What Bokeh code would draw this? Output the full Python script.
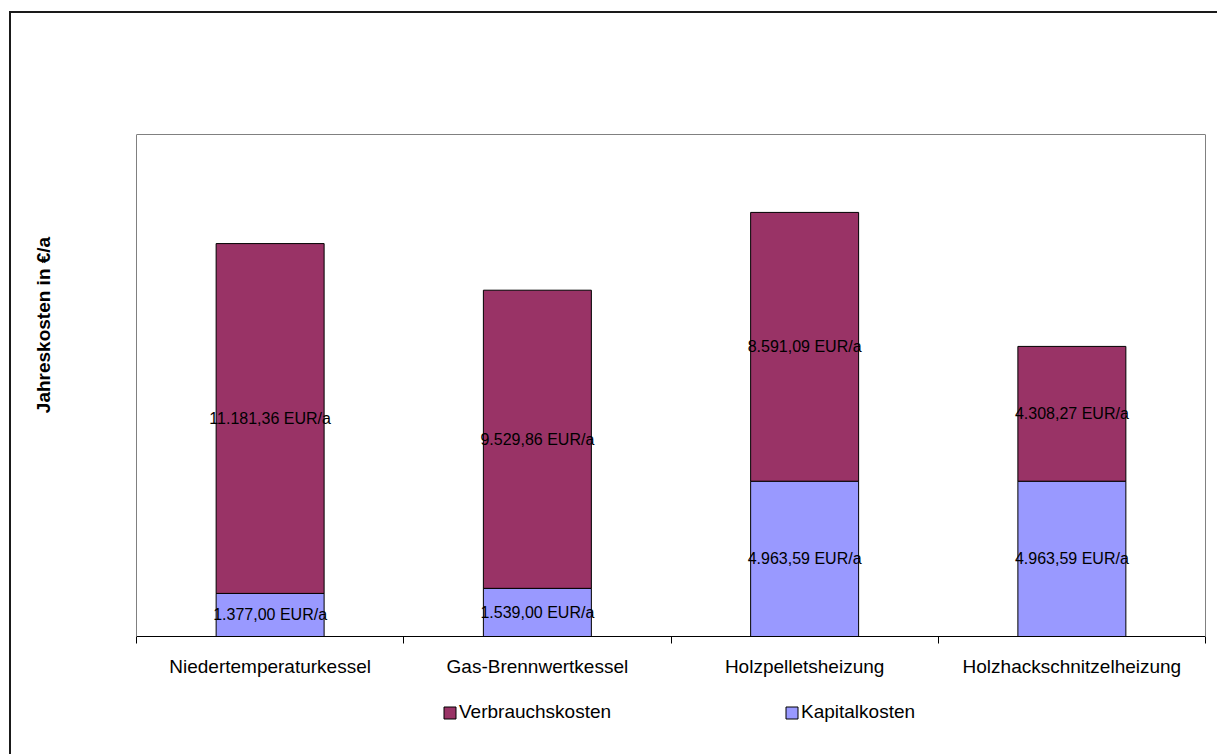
from bokeh.plotting import figure
from bokeh.layouts import column
from bokeh.models import (Range1d, FixedTicker, LinearAxis, LabelSet,
                          ColumnDataSource, Legend, LegendItem)
from bokeh.core.properties import value
from bokeh.embed import file_html
from bokeh.resources import INLINE

# Annual heating costs per system (EUR/a)
categories = ["Niedertemperaturkessel", "Gas-Brennwertkessel",
              "Holzpelletsheizung", "Holzhackschnitzelheizung"]
kapitalkosten = [1377.00, 1539.00, 4963.59, 4963.59]
verbrauchskosten = [11181.36, 9529.86, 8591.09, 4308.27]
series_names = ["Verbrauchskosten", "Kapitalkosten"]
y_title = "Jahreskosten in €/a"

COLOR_VERBRAUCH = "#993366"
COLOR_KAPITAL = "#9999FF"
FONT = "Liberation Sans"

Y_MAX = 16045                 # top of the plot area
PLOT_H, FRAME_H = 502, 623    # plot area height inside the taller frame
Y_END = Y_MAX * FRAME_H / PLOT_H
CHART_W = 1208
MAIN_H, LEGEND_H = 673, 70


def eur(v):
    s = f"{v:,.2f}".replace(",", "X").replace(".", ",").replace("X", ".")
    return f"{s} EUR/a"


# each category occupies two x units, bars sit in the middle
n = len(categories)
xs = [2 * i + 1 for i in range(n)]
src = ColumnDataSource(dict(x=xs, kap=kapitalkosten, verb=verbrauchskosten))

p = figure(width=CHART_W, height=MAIN_H, output_backend="svg", toolbar_location=None,
           title=None,
           x_range=Range1d(0, 2 * n), y_range=Range1d(0, Y_END),
           min_border_left=125, min_border_right=14,
           min_border_top=0, min_border_bottom=MAIN_H - FRAME_H)
p.background_fill_color = "white"
p.border_fill_color = "white"
p.outline_line_color = None
p.xgrid.visible = False
p.ygrid.visible = False

renderers = p.vbar_stack(["kap", "verb"], x="x", width=0.808, source=src,
                         fill_color=[COLOR_KAPITAL, COLOR_VERBRAUCH],
                         line_color="black", line_width=1)

# top edge of the plot area
p.segment(x0=0, y0=Y_MAX, x1=2 * n, y1=Y_MAX, line_color="#808080", line_width=1)

# value labels centred in each segment
lab_x, lab_y, lab_t = [], [], []
for x, k, v in zip(xs, kapitalkosten, verbrauchskosten):
    lab_x += [x, x]
    lab_y += [k / 2, k + v / 2]
    lab_t += [eur(k), eur(v)]
lab_src = ColumnDataSource(dict(x=lab_x, y=lab_y, t=lab_t))
p.add_layout(LabelSet(x="x", y="y", text="t", source=lab_src,
                      text_align="center", text_baseline="middle",
                      text_font=value(FONT), text_font_size="16px",
                      text_color="black"))

# x axis: category names at bar centres, ticks at category boundaries
ax = p.xaxis[0]
ax.ticker = FixedTicker(ticks=xs, minor_ticks=list(range(0, 2 * n + 1, 2)))
ax.major_label_overrides = {x: c for x, c in zip(xs, categories)}
ax.major_tick_line_color = None
ax.major_tick_out = 7
ax.major_tick_in = 0
ax.minor_tick_line_color = "black"
ax.minor_tick_out = 7
ax.minor_tick_in = 0
ax.axis_line_color = "black"
ax.major_label_standoff = 12
ax.major_label_text_font = FONT
ax.major_label_text_font_size = "19px"
ax.major_label_text_color = "black"

# left axis: grey plot-area edge plus the rotated title, no ticks
ay = p.yaxis[0]
ay.ticker = FixedTicker(ticks=[])
ay.bounds = (0, Y_MAX)
ay.axis_line_color = "#808080"
ay.major_tick_line_color = None
ay.minor_tick_line_color = None
ay.major_tick_out = 0
ay.major_label_standoff = 0
ay.axis_label = y_title
ay.axis_label_standoff = 83
ay.axis_label_text_font = FONT
ay.axis_label_text_font_size = "19px"
ay.axis_label_text_font_style = "bold"
ay.axis_label_text_color = "black"

# right grey edge of the plot area
ar = LinearAxis(ticker=FixedTicker(ticks=[]), bounds=(0, Y_MAX),
                axis_line_color="#808080", major_tick_line_color=None,
                minor_tick_line_color=None, major_tick_out=0,
                major_label_standoff=0)
p.add_layout(ar, "right")

# legend strip underneath the chart; the key renderers lie far outside its ranges
leg = figure(width=CHART_W, height=LEGEND_H, output_backend="svg", toolbar_location=None,
             title=None, x_range=Range1d(0, 1), y_range=Range1d(0, 1),
             x_axis_location=None, y_axis_location=None, min_border=0)
leg.outline_line_color = None
leg.xgrid.visible = False
leg.ygrid.visible = False
leg.background_fill_color = "white"
leg.border_fill_color = "white"
key_verb = leg.vbar(x=[-50], bottom=[-50], top=[-49], width=0.5,
                    fill_color=COLOR_VERBRAUCH, line_color="black")
key_kap = leg.vbar(x=[-50], bottom=[-50], top=[-49], width=0.5,
                   fill_color=COLOR_KAPITAL, line_color="black")
legend = Legend(items=[LegendItem(label=series_names[0], renderers=[key_verb]),
                       LegendItem(label=series_names[1], renderers=[key_kap])],
                location=(306, 33), orientation="horizontal",
                glyph_width=15, glyph_height=15, label_standoff=2,
                label_width=325, spacing=0, padding=0, margin=0,
                border_line_color=None, background_fill_alpha=0,
                label_text_font=FONT, label_text_font_size="19px",
                label_text_color="black")
leg.add_layout(legend)

chart = column(p, leg, spacing=0)
chart.margin = (13, 0, 0, 11)
chart.styles = {"box-shadow": "-2px -2px 0 0 #1a1a1a"}

open("out.html", "w").write(file_html(chart, INLINE))
